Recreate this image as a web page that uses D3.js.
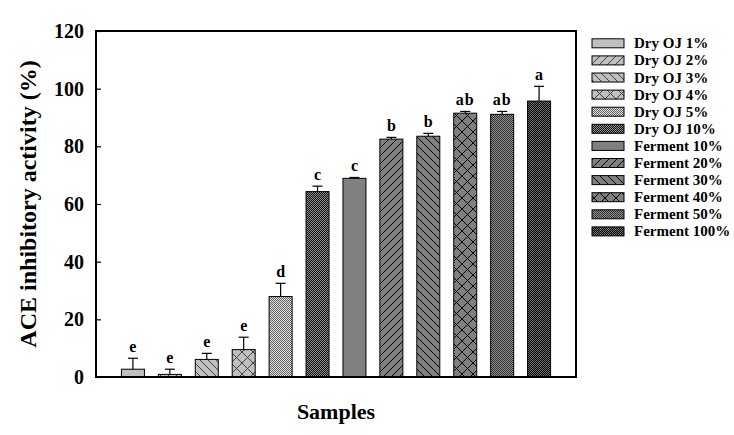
<!DOCTYPE html>
<html>
<head>
<meta charset="utf-8">
<script src="https://cdn.jsdelivr.net/npm/d3@7"></script>
<style>
  body { margin: 0; background: #fff; }
  svg { display: block; }
  text { font-family: "Liberation Serif", "Times New Roman", serif; font-weight: bold; fill: #000; }
</style>
</head>
<body>
<svg id="chart" width="734" height="435"></svg>
<script>
const categories = ["Dry OJ 1%", "Dry OJ 2%", "Dry OJ 3%", "Dry OJ 4%", "Dry OJ 5%", "Dry OJ 10%",
  "Ferment 10%", "Ferment 20%", "Ferment 30%", "Ferment 40%", "Ferment 50%", "Ferment 100%"];
const values = [2.7, 0.9, 6.1, 9.5, 27.9, 64.3, 68.9, 82.5, 83.5, 91.5, 91.1, 95.7];
const errors = [3.8, 1.8, 2.1, 4.3, 4.6, 1.9, 0.3, 0.6, 1.0, 0.6, 1.0, 5.1];
const letters = ["e", "e", "e", "e", "d", "c", "c", "b", "b", "ab", "ab", "a"];
const yTicks = [0, 20, 40, 60, 80, 100, 120];

const svg = d3.select("#chart");
const margin = { left: 96, right: 734 - 576, top: 31, bottom: 435 - 377 };
const W = 734, H = 435;

const x = d3.scalePoint().domain(categories).range([margin.left, W - margin.right]).padding(1);
const y = d3.scaleLinear().domain([0, 120]).range([H - margin.bottom, margin.top]);
const barW = 23;

// patterns
const defs = svg.append("defs");
function diag(id, base, line, dir, size) {
  const p = defs.append("pattern").attr("id", id).attr("patternUnits", "userSpaceOnUse")
    .attr("width", size).attr("height", size);
  p.append("rect").attr("width", size).attr("height", size).attr("fill", base);
  const s = size;
  if (dir === "/" || dir === "x") {
    p.append("path").attr("d", `M0,${s} L${s},0 M${-s/2},${s/2} L${s/2},${-s/2} M${s/2},${s*1.5} L${s*1.5},${s/2}`)
      .attr("stroke", line).attr("stroke-width", 1);
  }
  if (dir === "\\" || dir === "x") {
    p.append("path").attr("d", `M0,0 L${s},${s} M${-s/2},${s/2} L${s/2},${s*1.5} M${s/2},${-s/2} L${s*1.5},${s/2}`)
      .attr("stroke", line).attr("stroke-width", 1);
  }
}
function checker(id, base, dot) {
  const p = defs.append("pattern").attr("id", id).attr("patternUnits", "userSpaceOnUse")
    .attr("width", 2).attr("height", 2);
  p.append("rect").attr("width", 2).attr("height", 2).attr("fill", base).attr("shape-rendering", "crispEdges");
  p.append("rect").attr("x", 0).attr("y", 0).attr("width", 1).attr("height", 1).attr("fill", dot).attr("shape-rendering", "crispEdges");
  p.append("rect").attr("x", 1).attr("y", 1).attr("width", 1).attr("height", 1).attr("fill", dot).attr("shape-rendering", "crispEdges");
}
const light = "#c0c0c0", dark = "#808080";
diag("p1", light, "#404040", "/", 8);
diag("p2", light, "#404040", "\\", 8);
diag("p3", light, "#404040", "x", 11);
checker("p4", "#dcdcdc", "#666666");
checker("p5", "#101010", "#909090");
diag("p7", dark, "#000", "/", 8);
diag("p8", dark, "#000", "\\", 8);
diag("p9", dark, "#000", "x", 11);
checker("p10", "#909090", "#303030");
checker("p11", "#000000", "#707070");
const fills = [light, "url(#p1)", "url(#p2)", "url(#p3)", "url(#p4)", "url(#p5)",
  dark, "url(#p7)", "url(#p8)", "url(#p9)", "url(#p10)", "url(#p11)"];

// bars
svg.append("g").selectAll("rect").data(categories).join("rect")
  .attr("x", d => x(d) - barW / 2)
  .attr("y", (d, i) => y(values[i]))
  .attr("width", barW)
  .attr("height", (d, i) => y(0) - y(values[i]))
  .attr("fill", (d, i) => fills[i])
  .attr("stroke", "#000").attr("stroke-width", 1);

// error bars (upper)
const eg = svg.append("g").attr("stroke", "#000").attr("stroke-width", 1.2);
categories.forEach((c, i) => {
  const cx = x(c), top = y(values[i] + errors[i]);
  eg.append("line").attr("x1", cx).attr("x2", cx).attr("y1", y(values[i])).attr("y2", top);
  eg.append("line").attr("x1", cx - 5).attr("x2", cx + 5).attr("y1", top).attr("y2", top);
});

// letters
svg.append("g").selectAll("text").data(categories).join("text")
  .attr("x", d => x(d))
  .attr("y", (d, i) => y(values[i] + errors[i]) - 6)
  .attr("text-anchor", "middle")
  .attr("font-size", 16)
  .attr("letter-spacing", (d, i) => letters[i].length > 1 ? 1 : 0)
  .text((d, i) => letters[i]);

// axis
const yAxis = d3.axisLeft(y).tickValues(yTicks).tickSize(-5).tickPadding(12);
const ag = svg.append("g").attr("transform", `translate(${margin.left},0)`).call(yAxis);
ag.select(".domain").remove();
ag.selectAll(".tick line").attr("stroke", "#000").attr("stroke-width", 1.2);
ag.selectAll(".tick text").attr("font-size", 20).attr("font-family", "Liberation Serif, Times New Roman, serif").attr("font-weight", "bold").attr("fill", "#000");

// frame
svg.append("rect").attr("x", margin.left).attr("y", margin.top)
  .attr("width", W - margin.right - margin.left).attr("height", H - margin.bottom - margin.top)
  .attr("fill", "none").attr("stroke", "#000").attr("stroke-width", 2);

// titles
svg.append("text").attr("transform", `translate(36,${(margin.top + H - margin.bottom) / 2}) rotate(-90)`)
  .attr("text-anchor", "middle").attr("font-size", 24).text("ACE inhibitory activity (%)");
svg.append("text").attr("x", 336).attr("y", 419).attr("text-anchor", "middle")
  .attr("font-size", 22).text("Samples");

// legend
const lg = svg.append("g");
categories.forEach((c, i) => {
  const cy = 43.3 + i * 17.1;
  lg.append("rect").attr("x", 592).attr("y", cy - 4.5).attr("width", 32).attr("height", 9)
    .attr("fill", fills[i]).attr("stroke", "#000").attr("stroke-width", 1);
  lg.append("text").attr("x", 634).attr("y", cy + 5).attr("font-size", 15).text(c);
});
</script>
</body>
</html>
